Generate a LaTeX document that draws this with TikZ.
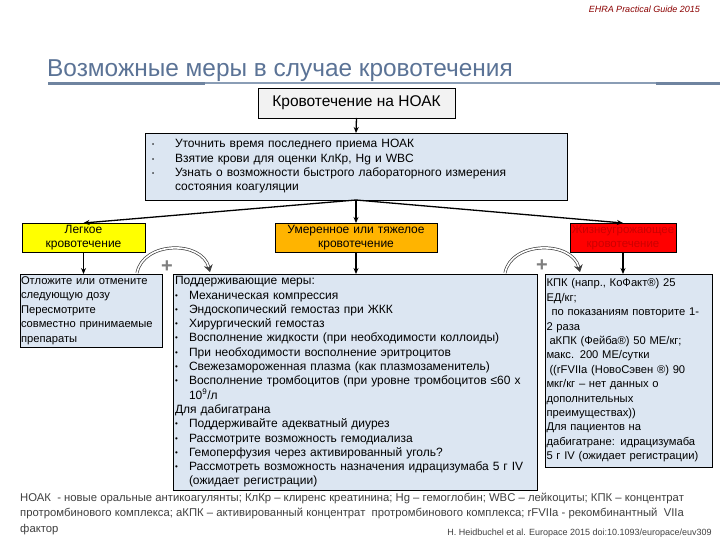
\documentclass[tikz,border=0pt]{standalone}
\usepackage{fontspec}
\setmainfont{Liberation Sans}
\usetikzlibrary{arrows.meta,calc}
\definecolor{boxblue}{HTML}{DCE6F2}
\definecolor{titlec}{HTML}{5B7396}
\definecolor{lineC}{HTML}{8A9DB5}
\definecolor{lineD}{HTML}{6F84A0}
\definecolor{hdrc}{HTML}{8B0000}
\definecolor{yel}{HTML}{FFFF00}
\definecolor{ora}{HTML}{FFB400}
\definecolor{redb}{HTML}{FF0000}
\definecolor{redt}{HTML}{CC0000}
\definecolor{greyfill}{HTML}{F2F2F2}
\definecolor{plusc}{HTML}{7F7F7F}
\definecolor{footc}{HTML}{404040}
\newcommand{\bul}{\makebox[14pt][l]{\raisebox{1pt}{\fontsize{8}{8}\selectfont\textbullet}}}
\newcommand{\sbul}{\makebox[23pt][l]{\raisebox{1pt}{\fontsize{6}{6}\selectfont\textbullet}}}
\begin{document}
\begin{tikzpicture}[x=1pt,y=-1pt,
  box/.style={draw=black, line width=0.8pt, inner xsep=2pt, inner ysep=0pt, outer sep=0pt, anchor=north west},
  bodyfont/.style={font=\fontsize{12}{14.4}\selectfont},
  arr/.style={-{Stealth[length=6pt,width=5pt]}, line width=1.3pt},
  curv/.style={draw=black!75, double=white, double distance=1.6pt, line width=0.7pt, -{Stealth[length=7pt,width=9pt]}},
  plus/.style={font=\fontsize{20}{20}\selectfont\bfseries, text=plusc, inner sep=0pt}]
\useasboundingbox (0,0) rectangle (720,540);
\fill[white] (0,0) rectangle (720,540);

\node[anchor=base east, font=\fontsize{9}{10}\selectfont\itshape, text=hdrc, inner sep=0pt] (hdr) at (700,13) {EHRA Practical Guide 2015};
\node[anchor=base west, font=\fontsize{24.4}{28}\selectfont, text=titlec, inner sep=0pt] (title) at (47,77) {Возможные меры в случае кровотечения};
\draw[lineC, line width=1.5pt] (48,83) -- (720,83);
\draw[lineD, line width=2.6pt] (48,83.5) -- (205,83.5);
\draw[lineD, line width=2.6pt] (656,83.5) -- (720,83.5);

\node[box, fill=greyfill, minimum width=197, minimum height=30, font=\fontsize{15.5}{18}\selectfont] (top) at (258,88) {Кровотечение на НОАК};

\node[box, fill=boxblue, minimum width=422, minimum height=67, inner xsep=7pt, text width=408, align=left, font=\fontsize{12}{14.3}\selectfont] (checks) at (145,133)
{\sbul Уточнить время последнего приема НОАК\\
 \sbul Взятие крови для оценки КлКр, Hg и WBC\\
 \sbul Узнать о возможности быстрого лабораторного измерения\\
 \hspace*{23pt}состояния коагуляции};

\node[box, fill=yel, minimum width=123, minimum height=29, text width=119, align=center, bodyfont] (mild) at (22,223) {Легкое\\кровотечение};
\node[box, fill=ora, minimum width=162, minimum height=29, text width=158, align=center, bodyfont] (mod) at (275,223) {Умеренное или тяжелое\\кровотечение};
\node[box, fill=redb, minimum width=106, minimum height=29, text width=104, inner xsep=1pt, align=center, font=\fontsize{11.5}{14.4}\selectfont, text=redt] (life) at (570,223) {Жизнеугрожающее\\кровотечение};

\node[box, fill=boxblue, minimum width=142, minimum height=73, inner xsep=1pt, text width=140, align=left, font=\fontsize{11.2}{14.6}\selectfont] (left) at (20,274)
{Отложите или отмените\\следующую дозу\\Пересмотрите\\совместно принимаемые\\препараты};

\node[box, fill=boxblue, minimum width=364, minimum height=216, text width=360, align=left, font=\fontsize{12}{14.3}\selectfont] (mid) at (173,274)
{Поддерживающие меры:\\
\bul Механическая компрессия\\
\bul Эндоскопический гемостаз при ЖКК\\
\bul Хирургический гемостаз\\
\bul Восполнение жидкости (при необходимости коллоиды)\\
\bul При необходимости восполнение эритроцитов\\
\bul Свежезамороженная плазма (как плазмозаменитель)\\
\bul Восполнение тромбоцитов (при уровне тромбоцитов ≤60 x\\
\hspace*{14pt}10\textsuperscript{9}/л\\
Для дабигатрана\\
\bul Поддерживайте адекватный диурез\\
\bul Рассмотрите возможность гемодиализа\\
\bul Гемоперфузия через активированный уголь?\\
\bul Рассмотреть возможность назначения идрацизумаба 5 г IV\\
\hspace*{14pt}(ожидает регистрации)};

\node[box, fill=boxblue, minimum width=167, minimum height=193, inner xsep=1.5pt, text width=164, align=left, font=\fontsize{11.2}{14.4}\selectfont] (right) at (545,274)
{КПК (напр., КоФакт®) 25\\
ЕД/кг;\\
\hspace*{5pt}по показаниям повторите 1-\\
2 раза\\
\hspace*{3pt}аКПК (Фейба®) 50 МЕ/кг;\\
макс. 200 МЕ/сутки\\
\hspace*{3pt}((rFVIIa (НовоСэвен ®) 90\\
мкг/кг – нет данных о\\
дополнительных\\
преимуществах))\\
Для пациентов на\\
дабигатране: идрацизумаба\\
5 г IV (ожидает регистрации)};

% connectors
\draw[arr] (top.south) -- (checks.north);
\draw[arr] (checks.south) -- (mild.north);
\draw[arr] (checks.south) -- (mod.north);
\draw[arr] (checks.south) -- (life.north);
\draw[arr] (mild.south) -- (mild.south |- left.north);
\draw[arr] (mod.south) -- (mod.south |- mid.north);
\draw[arr] (life.south) -- (life.south |- right.north);

% plus arrows
\coordinate (l1) at ($(left.north east)+(-25,-1)$);
\coordinate (l2) at ($(mid.north west)+(37,-2)$);
\draw[curv] (l1) .. controls ($(l1)+(6,-32)$) and ($(l2)+(-8,-32)$) .. (l2);
\node[plus] (p1) at (167,267) {+};
\coordinate (r1) at ($(mid.north east)+(-32,-1)$);
\coordinate (r2) at ($(right.north west)+(35,-2)$);
\draw[curv] (r1) .. controls ($(r1)+(6,-32)$) and ($(r2)+(-8,-32)$) .. (r2);
\node[plus] (p2) at (542,266) {+};

\node[anchor=north west, align=left, font=\fontsize{11.3}{15.3}\selectfont, text=footc, inner sep=0pt] (foot) at (20,493)
{НОАК \ - новые оральные антикоагулянты; КлКр – клиренс креатинина; Hg – гемоглобин; WBC – лейкоциты; КПК – концентрат\\
протромбинового комплекса; аКПК – активированный концентрат \ протромбинового комплекса; rFVIIa - рекомбинантный \ VIIa\\
фактор};
\node[anchor=base east, font=\fontsize{9}{10}\selectfont, text=footc, inner sep=0pt] (cite) at (712,535) {H. Heidbuchel et al. Europace 2015 doi:10.1093/europace/euv309};
\end{tikzpicture}
\end{document}
